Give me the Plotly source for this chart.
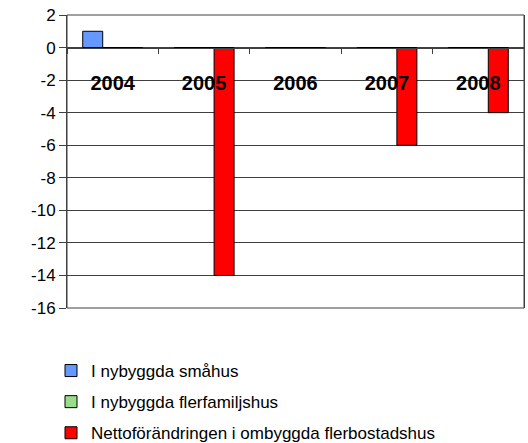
import plotly.graph_objects as go

years = ["2004", "2005", "2006", "2007", "2008"]
smahus = [1, 0, 0, 0, 0]
flerfamiljshus = [0, 0, 0, 0, 0]
ombyggda = [0, -14, 0, -6, -4]

y_tickvals = [2, 0, -2, -4, -6, -8, -10, -12, -14, -16]
y_ticktext = ["2", "0", "-2", "-4", "-6", "-8", "-10", "-12", "-14", "-16"]

names = ["I nybyggda småhus", "I nybyggda flerfamiljshus",
         "Nettoförändringen i ombyggda flerbostadshus"]
colors = ["#6699FF", "#99DD88", "#FF0000"]

fig = go.Figure()
for i, (nm, vals, col) in enumerate(zip(names, [smahus, flerfamiljshus, ombyggda], colors)):
    fig.add_trace(go.Bar(
        x=years, y=vals, name=nm, legendgroup=f"g{i}",
        marker=dict(color=col, line=dict(color="#000000", width=1)),
    ))

fig.update_layout(
    width=528, height=443,
    margin=dict(l=67, r=4, t=15, b=135, autoexpand=False),
    paper_bgcolor="white", plot_bgcolor="white",
    barmode="group", bargap=0.344, bargroupgap=0,
    font=dict(family="Liberation Sans, Arial, sans-serif", color="#000000"),
    showlegend=True,
    legend=dict(
        orientation="v", xref="container", x=51/528, xanchor="left",
        yref="container", y=1 - 353/443, yanchor="top",
        font=dict(size=17), tracegroupgap=6, itemwidth=30,
        bgcolor="rgba(0,0,0,0)",
    ),
    xaxis=dict(
        type="category", anchor="free", position=16/18,
        showline=True, linecolor="#404040", linewidth=1,
        ticks="outside", ticklen=5, tickcolor="#404040", tickson="boundaries",
        ticklabelstandoff=17,
        tickfont=dict(size=20, family="Liberation Sans, Arial, sans-serif", weight="bold"),
        showgrid=False, zeroline=False,
    ),
    yaxis=dict(
        range=[-16, 2], tickmode="array", tickvals=y_tickvals, ticktext=y_ticktext,
        showline=True, linecolor="#404040", linewidth=1, mirror=True,
        ticks="outside", ticklen=7, tickcolor="#404040",
        tickfont=dict(size=17),
        showgrid=True, gridcolor="#404040", gridwidth=1,
        zeroline=False,
    ),
    shapes=[dict(type="rect", xref="paper", yref="paper", x0=0, x1=1, y0=0, y1=1,
                 line=dict(color="#404040", width=1), layer="below")],
)

fig.write_html("out.html", config={"displayModeBar": False},
               post_script="document.body.style.margin='0';document.body.style.padding='0';")
